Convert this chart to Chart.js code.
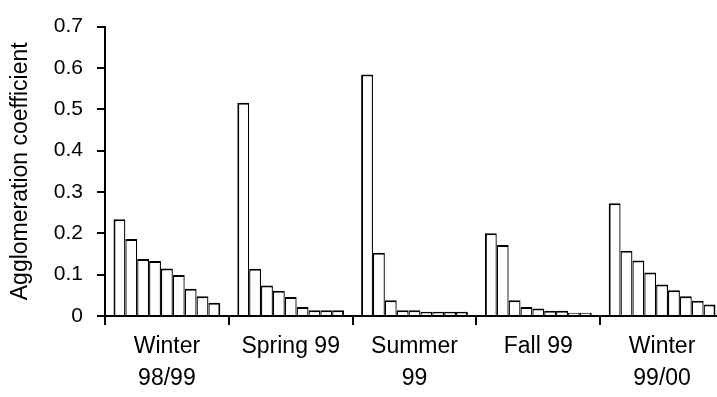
<!DOCTYPE html>
<html>
<head>
<meta charset="utf-8">
<script src="https://cdn.jsdelivr.net/npm/chart.js@4/dist/chart.umd.min.js"></script>
<style>
  html, body { margin: 0; padding: 0; background: #fff; overflow: hidden; }
  #wrap { position: relative; width: 724px; height: 397px; }
</style>
</head>
<body>
<div id="wrap"><canvas id="c"></canvas></div>
<script>
// Season labels on the category axis (multi-line where the label wraps)
const seasons = [["Winter", "98/99"], "Spring 99", ["Summer", "99"], "Fall 99", ["Winter", "99/00"]];

// Agglomeration coefficients, nine ranked values per season
const winter9899 = [0.234, 0.186, 0.138, 0.133, 0.115, 0.099, 0.066, 0.048, 0.032];
const spring99   = [0.516, 0.114, 0.074, 0.061, 0.046, 0.022, 0.014, 0.014, 0.014];
const summer99   = [0.584, 0.153, 0.038, 0.014, 0.014, 0.010, 0.010, 0.010, 0.010];
const fall99     = [0.200, 0.172, 0.038, 0.022, 0.018, 0.013, 0.013, 0.008, 0.008];
const winter9900 = [0.273, 0.158, 0.134, 0.105, 0.076, 0.062, 0.048, 0.037, 0.028];

// Value axis
const yMin = 0;
const yMax = 0.7;
const yStep = 0.1;

const groups = [winter9899, spring99, summer99, fall99, winter9900];
const rankCount = winter9899.length;

const FONT = "'Liberation Sans', Arial, Helvetica, sans-serif";

const datasets = [];
for (let r = 0; r < rankCount; r++) {
  datasets.push({
    label: 'Rank ' + (r + 1),
    data: groups.map(g => g[r]),
    backgroundColor: '#ffffff',
    borderColor: '#000000',
    // neighbouring bars share one outline, so inner sides are thinner
    borderWidth: { top: 2, left: r === 0 ? 2 : 1.3, right: r === rankCount - 1 ? 2 : 1.3, bottom: 0 },
    borderSkipped: 'start',
    categoryPercentage: 0.8626,
    barPercentage: 1.0
  });
}

new Chart(document.getElementById('c'), {
  type: 'bar',
  data: { labels: seasons, datasets },
  options: {
    responsive: true,
    maintainAspectRatio: false,
    animation: false,
    events: [],
    layout: { padding: { top: 24, left: 0, right: 0, bottom: 0 } },
    plugins: { legend: { display: false }, tooltip: { enabled: false } },
    scales: {
      x: {
        offset: true,
        border: { display: true, color: '#000', width: 2 },
        grid: { display: true, offset: true, drawOnChartArea: false, drawTicks: true, tickLength: 9, color: '#000', lineWidth: 2 },
        ticks: {
          color: '#000',
          padding: 5,
          autoSkip: false,
          maxRotation: 0,
          font: { family: FONT, size: 23, lineHeight: 1.42 }
        },
        afterFit: s => { s.height = 81; }
      },
      y: {
        min: yMin,
        max: yMax,
        border: { display: true, color: '#000', width: 2 },
        grid: { display: true, drawOnChartArea: false, drawTicks: true, tickLength: 8, color: '#000', lineWidth: 2 },
        ticks: {
          stepSize: yStep,
          color: '#000',
          padding: 14,
          font: { family: FONT, size: 21 },
          callback: v => (v === 0 ? '0' : Number(v).toFixed(1))
        },
        title: {
          display: true,
          text: 'Agglomeration coefficient',
          color: '#000',
          font: { family: FONT, size: 23, lineHeight: 1.2 },
          padding: { top: 7, bottom: 0 }
        },
        afterFit: s => { s.width = 105; }
      }
    }
  }
});
</script>
</body>
</html>
